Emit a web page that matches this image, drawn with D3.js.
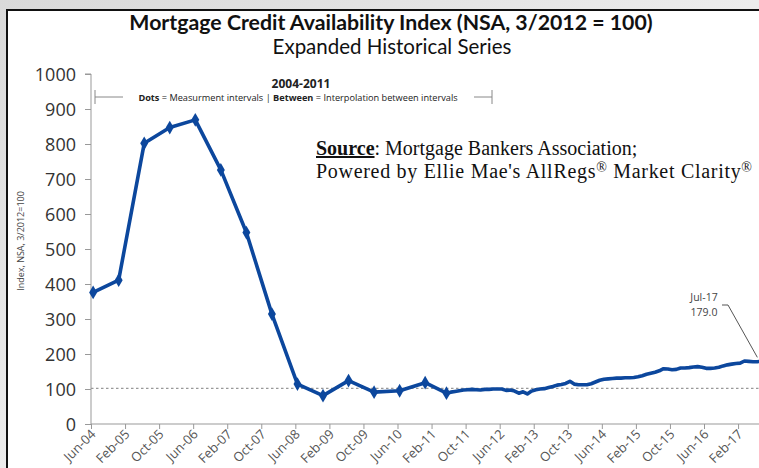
<!DOCTYPE html>
<html><head><meta charset="utf-8">
<script src="https://cdn.jsdelivr.net/npm/d3@7"></script>
<style>
html,body{margin:0;padding:0;background:#fff;}
svg{display:block;}
</style></head>
<body>
<svg id="chart" width="759" height="468"></svg>
<script>
// ---- data ----
const startLabel = "Jun-04";               // month index 0
const tickMonths = [0,8,16,24,32,40,48,56,64,72,80,88,96,104,112,120,128,136,144,152];
const tickLabels = ["Jun-04","Feb-05","Oct-05","Jun-06","Feb-07","Oct-07","Jun-08","Feb-09","Oct-09","Jun-10",
                    "Feb-11","Oct-11","Jun-12","Feb-13","Oct-13","Jun-14","Feb-15","Oct-15","Jun-16","Feb-17"];
const yTicks = [0,100,200,300,400,500,600,700,800,900,1000];
// semi-annual measurement points (dots), 2004-2011
const dotMonths = [0,6,12,18,24,30,36,42,48,54,60,66,72,78,83];
const dotValues = [376,411,802,847,869,726,547,314,114,81,124,91,95,118,88];
// monthly values from month index 84 (Jun-11) through 157 (Jul-17)
const monthlyStart = 84;
const monthlyValues = [
  91,93,95,97,98,99,98,97,99,99,100,100,100,96,97,94,88,92,86,94,
  98,100,101,104,107,111,113,116,122,114,112,112,112,115,120,125,128,129,130,131,
  131,132,132,133,135,138,142,145,148,152,158,157,155,156,160,160,161,163,164,162,
  159,159,160,162,166,169,171,173,174,180,179,178,178,179
];
const refValue = 102;
const lastLabel = ["Jul-17","179.0"];

// ---- build ----
const svg = d3.select("#chart");
const W = 759, H = 468;

// background texture outside frame
const defs = svg.append("defs");
const g1 = defs.append("linearGradient").attr("id","bg").attr("x1","0").attr("y1","0").attr("x2","1").attr("y2","1");
g1.append("stop").attr("offset","0").attr("stop-color","#d9d9d9");
g1.append("stop").attr("offset","0.5").attr("stop-color","#ececec");
g1.append("stop").attr("offset","1").attr("stop-color","#dcdcdc");
svg.append("rect").attr("width",W).attr("height",H).attr("fill","url(#bg)");
// frame
svg.append("rect").attr("x",7).attr("y",10).attr("width",W).attr("height",H)
  .attr("fill","#fff").attr("stroke","#111").attr("stroke-width",2);

const x = d3.scaleLinear().domain([0,158]).range([91, 91+158*4.257]);
const y = d3.scaleLinear().domain([0,1000]).range([424,74]);

// title
svg.append("text").attr("x",391).attr("y",30).attr("text-anchor","middle")
  .attr("font-family","Lato, 'Open Sans', sans-serif").attr("font-weight","bold").attr("font-size",21.3)
  .attr("fill","#111").text("Mortgage Credit Availability Index (NSA, 3/2012 = 100)");
svg.append("text").attr("x",392).attr("y",54).attr("text-anchor","middle")
  .attr("font-family","Lato, 'Open Sans', sans-serif").attr("font-size",20.5)
  .attr("fill","#111").text("Expanded Historical Series");

// y axis
const yAxis = d3.axisLeft(y).tickValues(yTicks).tickSize(6).tickPadding(9).tickFormat(d3.format("d"));
const ya = svg.append("g").attr("transform",`translate(${x(0)},0)`).call(yAxis);
ya.select(".domain").attr("stroke","#999").attr("d",`M-6,${y(1000)}H0V${y(0)}`);
ya.selectAll(".tick line").attr("stroke","#999");
ya.selectAll(".tick text").attr("font-family","'Open Sans', sans-serif").attr("font-size",18)
  .attr("fill","#333").attr("dy","0.35em");

// x axis
const xAxis = d3.axisBottom(x).tickValues(tickMonths).tickSize(5).tickFormat((d,i)=>tickLabels[i]);
const xa = svg.append("g").attr("transform",`translate(0,${y(0)})`).call(xAxis);
xa.select(".domain").attr("stroke","#999").attr("d",`M${x(0)},0H${W}`);
xa.selectAll(".tick line").attr("stroke","#999");
xa.selectAll(".tick text").attr("font-family","'Open Sans', sans-serif").attr("font-size",13)
  .attr("fill","#555").attr("text-anchor","end").attr("dy",0).attr("y",0)
  .attr("transform","translate(5,11) rotate(-45)");

// y axis title
svg.append("text").attr("transform","translate(24,241) rotate(-90)").attr("text-anchor","middle")
  .attr("font-family","'Open Sans', sans-serif").attr("font-size",9).attr("fill","#444")
  .text("Index, NSA, 3/2012=100");

// reference dotted line
svg.append("line").attr("x1",x(0)).attr("x2",W).attr("y1",y(refValue)).attr("y2",y(refValue))
  .attr("stroke","#999").attr("stroke-width",1.3).attr("stroke-dasharray","2.5,2.5");

// series
const pts = dotMonths.map((m,i)=>({m:m, v:dotValues[i]}))
  .concat(monthlyValues.map((v,i)=>({m:monthlyStart+i, v:v})));
const line = d3.line().x(d=>x(d.m+0.5)).y(d=>y(d.v));
svg.append("path").datum(pts).attr("d",line).attr("fill","none")
  .attr("stroke","#0c479d").attr("stroke-width",3.6).attr("stroke-linejoin","round");
const diamond = d3.symbol().type(d3.symbolDiamond).size(55);
svg.append("g").selectAll("path").data(dotMonths.map((m,i)=>({m:m,v:dotValues[i]}))).join("path")
  .attr("d",diamond).attr("transform",d=>`translate(${x(d.m+0.5)},${y(d.v)})`)
  .attr("fill","#0c479d");

// 2004-2011 annotation
svg.append("text").attr("x",301).attr("y",88).attr("text-anchor","middle")
  .attr("font-family","'Open Sans', sans-serif").attr("font-weight","bold").attr("font-size",12)
  .attr("fill","#222").text("2004-2011");
const ann = svg.append("text").attr("x",298).attr("y",101).attr("text-anchor","middle")
  .attr("font-family","'Open Sans', sans-serif").attr("font-size",9.2).attr("fill","#222");
ann.append("tspan").attr("font-weight","bold").text("Dots");
ann.append("tspan").text(" = Measurment intervals  |  ");
ann.append("tspan").attr("font-weight","bold").text("Between");
ann.append("tspan").text(" = Interpolation between intervals");
svg.append("path").attr("d","M95,90V104M95,97H123M474,97H492M492,90V104")
  .attr("stroke","#888").attr("stroke-width",1).attr("fill","none");

// source text
const src = svg.append("g").attr("font-family","'Liberation Serif', 'Times New Roman', serif").attr("font-size",20).attr("fill","#111");
const s1 = src.append("text").attr("x",316).attr("y",155);
s1.append("tspan").attr("font-weight","bold").attr("text-decoration","underline").text("Source");
s1.append("tspan").text(": Mortgage Bankers Association;");
const s2 = src.append("text").attr("x",316).attr("y",178).attr("textLength",436).attr("lengthAdjust","spacing");
s2.append("tspan").text("Powered by Ellie Mae's AllRegs");
s2.append("tspan").attr("font-size",14).attr("dy",-6).text("®");
s2.append("tspan").attr("dy",6).text(" Market Clarity");
s2.append("tspan").attr("font-size",14).attr("dy",-6).text("®");

// last value callout
const last = pts[pts.length-1];
svg.append("text").attr("x",704).attr("y",301).attr("text-anchor","middle")
  .attr("font-family","'Open Sans', sans-serif").attr("font-size",10.5).attr("fill","#444").text(lastLabel[0]);
svg.append("text").attr("x",704).attr("y",316).attr("text-anchor","middle")
  .attr("font-family","'Open Sans', sans-serif").attr("font-size",10.5).attr("fill","#444").text(lastLabel[1]);
svg.append("path").attr("d",`M722,305H728L${x(last.m)-2},${y(last.v)-4}`)
  .attr("stroke","#555").attr("stroke-width",1).attr("fill","none");
</script>
</body></html>
